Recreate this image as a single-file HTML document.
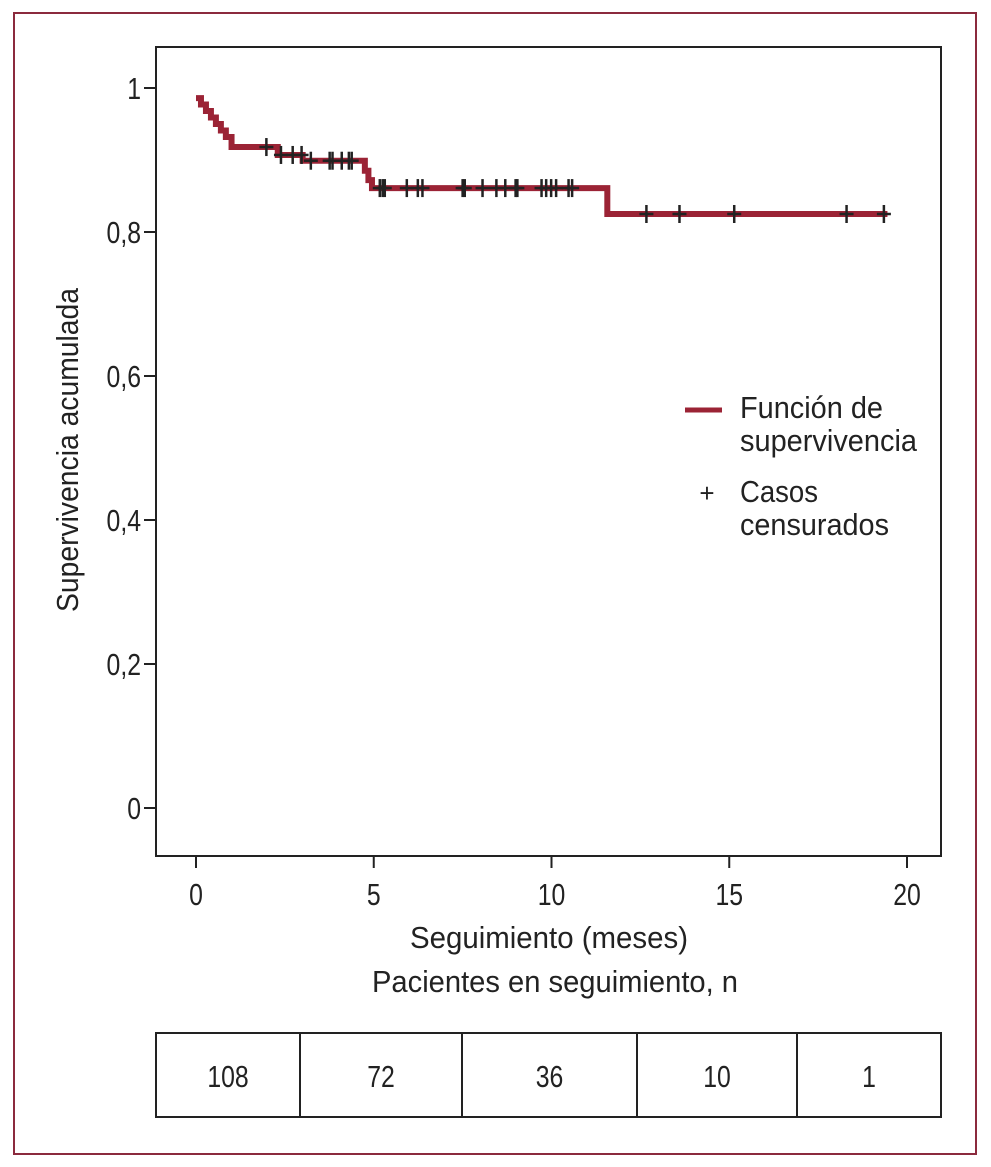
<!DOCTYPE html>
<html><head><meta charset="utf-8"><style>
html,body{margin:0;padding:0;background:#fff;}
svg text{font-family:"Liberation Sans Narrow","Liberation Sans",sans-serif;fill:#222;}
</style></head><body>
<svg id="chart" width="991" height="1162" viewBox="0 0 991 1162" xmlns="http://www.w3.org/2000/svg">
<rect x="14" y="13" width="962" height="1141" fill="none" stroke="#8b2a3d" stroke-width="2"/>
<rect x="156" y="47" width="785" height="809" fill="none" stroke="#222" stroke-width="2"/>
<g id="axes"></g>
<g id="series"></g>
<text x="0" y="0" transform="translate(78,450) rotate(-90)" text-anchor="middle" font-size="31" textLength="324" lengthAdjust="spacingAndGlyphs">Supervivencia acumulada</text>
<text x="410" y="948" font-size="31" textLength="278" lengthAdjust="spacingAndGlyphs">Seguimiento (meses)</text>
<text x="372" y="992" font-size="31" textLength="366" lengthAdjust="spacingAndGlyphs">Pacientes en seguimiento, n</text>
<g>
<line x1="685" y1="410" x2="722" y2="410" stroke="#9b2335" stroke-width="5"/>
<text x="740" y="418" font-size="31" textLength="143" lengthAdjust="spacingAndGlyphs">Función de</text>
<text x="740" y="451" font-size="31" textLength="177" lengthAdjust="spacingAndGlyphs">supervivencia</text>
<text x="707" y="502" text-anchor="middle" font-size="26">+</text>
<text x="740" y="502" font-size="31" textLength="78" lengthAdjust="spacingAndGlyphs">Casos</text>
<text x="740" y="535" font-size="31" textLength="149" lengthAdjust="spacingAndGlyphs">censurados</text>
</g>
<g id="table"></g>
</svg>
<script>
const xTicks=[0,5,10,15,20];
const yTicks=[0,0.2,0.4,0.6,0.8,1];
const yTickLabels=["0","0,2","0,4","0,6","0,8","1"];
const stepTimes=[0,0.14,0.28,0.42,0.56,0.7,0.84,1.0,2.3,3.0,4.75,4.85,4.95,11.57];
const stepSurv=[0.986,0.977,0.968,0.959,0.950,0.941,0.932,0.918,0.907,0.899,0.885,0.872,0.861,0.825];
const endTime=19.45;
const censorTimes=[1.98,2.39,2.72,2.97,3.23,3.76,3.84,4.1,4.3,4.38,5.17,5.25,5.31,5.93,6.24,6.37,7.5,7.56,8.06,8.45,8.7,8.99,9.04,9.72,9.85,9.99,10.13,10.48,10.58,12.67,13.6,15.14,18.3,19.35];
const riskCounts=["108","72","36","10","1"];
const NS="http://www.w3.org/2000/svg";
const X=t=>196+t*35.55;
const Y=v=>808-v*720;
function mk(tag,attrs,parent){const e=document.createElementNS(NS,tag);for(const k in attrs)e.setAttribute(k,attrs[k]);parent.appendChild(e);return e;}
function narrowText(x,y,anchor,str,parent){const t=mk('text',{x:0,y:0,'text-anchor':anchor,'font-size':31,transform:'translate('+x+','+y+') scale(0.8,1)'},parent);t.textContent=str;return t;}
const axes=document.getElementById('axes');
xTicks.forEach(t=>{
 const l=mk('line',{x1:X(t),x2:X(t),y1:856,y2:868,stroke:'#222','stroke-width':2},axes);
 
 
 const tx=narrowText(X(t),905,'middle',String(t),axes);
 
 
});
yTicks.forEach((v,i)=>{
 const l=mk('line',{x1:144,x2:156,y1:Y(v),y2:Y(v),stroke:'#222','stroke-width':2},axes);
 
 
 const tx=narrowText(141,Y(v)+11,'end',yTickLabels[i],axes);
 
 
});
const ser=document.getElementById('series');
let d='M'+X(stepTimes[0])+','+Y(stepSurv[0]);
for(let i=1;i<stepTimes.length;i++){d+=' H'+X(stepTimes[i])+' V'+Y(stepSurv[i]);}
d+=' H'+X(endTime);
const p=mk('path',{d:d,fill:'none',stroke:'#9b2335','stroke-width':6},ser);


function survAt(t){let s=stepSurv[0];for(let i=0;i<stepTimes.length;i++){if(stepTimes[i]<=t)s=stepSurv[i];}return s;}
censorTimes.forEach(t=>{
 const x=X(t),y=Y(survAt(t));
 const g=mk('g',{stroke:'#222','stroke-width':2.5},ser);
 
 
 mk('line',{x1:x,x2:x,y1:y-9,y2:y+9},g);
 mk('line',{x1:x-7,x2:x+7,y1:y,y2:y},g);
});
const tb=document.getElementById('table');
const cols=[156,300,462,637,797,941];
const r=mk('rect',{x:156,y:1033,width:785,height:84,fill:'none',stroke:'#222','stroke-width':2},tb);


riskCounts.forEach((c,i)=>{
 if(i>0){const l=mk('line',{x1:cols[i],x2:cols[i],y1:1033,y2:1117,stroke:'#222','stroke-width':2},tb);
 
 }
 const tx=narrowText((cols[i]+cols[i+1])/2,1087,'middle',c,tb);
 
 
});
</script>
</body></html>
